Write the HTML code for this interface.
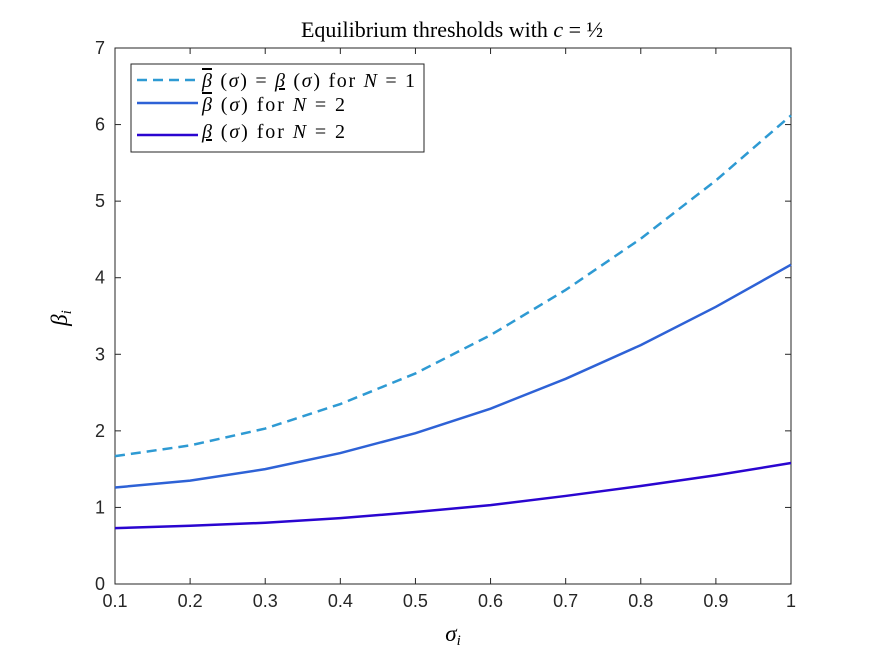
<!DOCTYPE html>
<html><head><meta charset="utf-8"><style>
body{margin:0;background:#fff}
.sans{font-family:"Liberation Sans",sans-serif}
.serif{font-family:"Liberation Serif",serif}
</style></head><body>
<svg id="chart" width="875" height="656" xmlns="http://www.w3.org/2000/svg" style="position:absolute;left:0;top:0">
<rect width="875" height="656" fill="#fff"/>
<g id="plot"></g>
</svg>
<script>
const xs = [0.1,0.2,0.3,0.4,0.5,0.6,0.7,0.8,0.9,1.0];
const seriesN1 = [1.67,1.81,2.03,2.35,2.75,3.25,3.84,4.51,5.27,6.12];
const seriesUpper = [1.26,1.35,1.50,1.71,1.97,2.29,2.68,3.12,3.62,4.17];
const seriesLower = [0.73,0.76,0.80,0.86,0.94,1.03,1.15,1.28,1.42,1.58];
const xTicks = ["0.1","0.2","0.3","0.4","0.5","0.6","0.7","0.8","0.9","1"];
const yTicks = ["0","1","2","3","4","5","6","7"];
const L=115,R=791,T=48,B=584;
const X=v=>L+(v-0.1)/0.9*(R-L);
const Y=v=>B-v/7*(B-T);
const NS="http://www.w3.org/2000/svg";
const g=document.getElementById('plot');
function mk(t,a,p){const e=document.createElementNS(NS,t);for(const k in a)e.setAttribute(k,a[k]);(p||g).appendChild(e);return e;}
const ax=mk('rect',{x:L,y:T,width:R-L,height:B-T,fill:'#fff',stroke:'#262626','stroke-width':1});


xTicks.forEach((t,i)=>{const v=parseFloat(t);const x=X(v);
 mk('line',{x1:x,x2:x,y1:B,y2:B-6,stroke:'#262626'});mk('line',{x1:x,x2:x,y1:T,y2:T+6,stroke:'#262626'});
 const e=mk('text',{x:x,y:B+23,'text-anchor':'middle','font-size':18,fill:'#262626',class:'sans'});e.textContent=t;
 
 });
yTicks.forEach(t=>{const y=Y(parseFloat(t));
 mk('line',{x1:L,x2:L+6,y1:y,y2:y,stroke:'#262626'});mk('line',{x1:R,x2:R-6,y1:y,y2:y,stroke:'#262626'});
 const e=mk('text',{x:L-10,y:y+6,'text-anchor':'end','font-size':18,fill:'#262626',class:'sans'});e.textContent=t;
 
 });
function line(d,col,dash,name){const p=mk('polyline',{points:xs.map((v,i)=>X(v)+','+Y(d[i])).join(' '),fill:'none',stroke:col,'stroke-width':2.5});
 if(dash)p.setAttribute('stroke-dasharray','10 6');
 
 }
line(seriesN1,'#2E9AD3',true,'series-n1-dashed');
line(seriesUpper,'#2E62D6',false,'series-upper-n2');
line(seriesLower,'#2A05D0',false,'series-lower-n2');
</script>
<svg style="position:absolute;left:0;top:0" width="875" height="656">
<text class="serif" x="452" y="37" text-anchor="middle" font-size="22" fill="#000">Equilibrium thresholds with <tspan font-style="italic">c</tspan> = ½</text>
<text class="serif" x="453" y="641" text-anchor="middle" font-size="23" font-style="italic">σ<tspan font-size="15" dy="4">i</tspan></text>
<text class="serif" transform="translate(67,318) rotate(-90)" text-anchor="middle" font-size="23" font-style="italic">β<tspan font-size="15" dy="4">i</tspan></text>
<g>
<rect x="131" y="64" width="293" height="88" fill="#fff" stroke="#262626" stroke-width="1"/>
<line x1="137" x2="198" y1="80" y2="80" stroke="#2E9AD3" stroke-width="2.5" stroke-dasharray="10 6"/>
<line x1="137" x2="198" y1="103" y2="103" stroke="#2E62D6" stroke-width="2.5"/>
<line x1="137" x2="198" y1="135" y2="135" stroke="#2A05D0" stroke-width="2.5"/>
<text class="serif" font-size="20" x="202" y="87" textLength="213"><tspan font-style="italic" text-decoration="overline">β</tspan> (<tspan font-style="italic">σ</tspan>) = <tspan font-style="italic" text-decoration="underline">β</tspan> (<tspan font-style="italic">σ</tspan>) for <tspan font-style="italic">N</tspan> = 1</text>
<text class="serif" font-size="20" x="202" y="111" textLength="143"><tspan font-style="italic" text-decoration="overline">β</tspan> (<tspan font-style="italic">σ</tspan>) for <tspan font-style="italic">N</tspan> = 2</text>
<text class="serif" font-size="20" x="202" y="138" textLength="143"><tspan font-style="italic" text-decoration="underline">β</tspan> (<tspan font-style="italic">σ</tspan>) for <tspan font-style="italic">N</tspan> = 2</text>
</g>
</svg>
</body></html>
